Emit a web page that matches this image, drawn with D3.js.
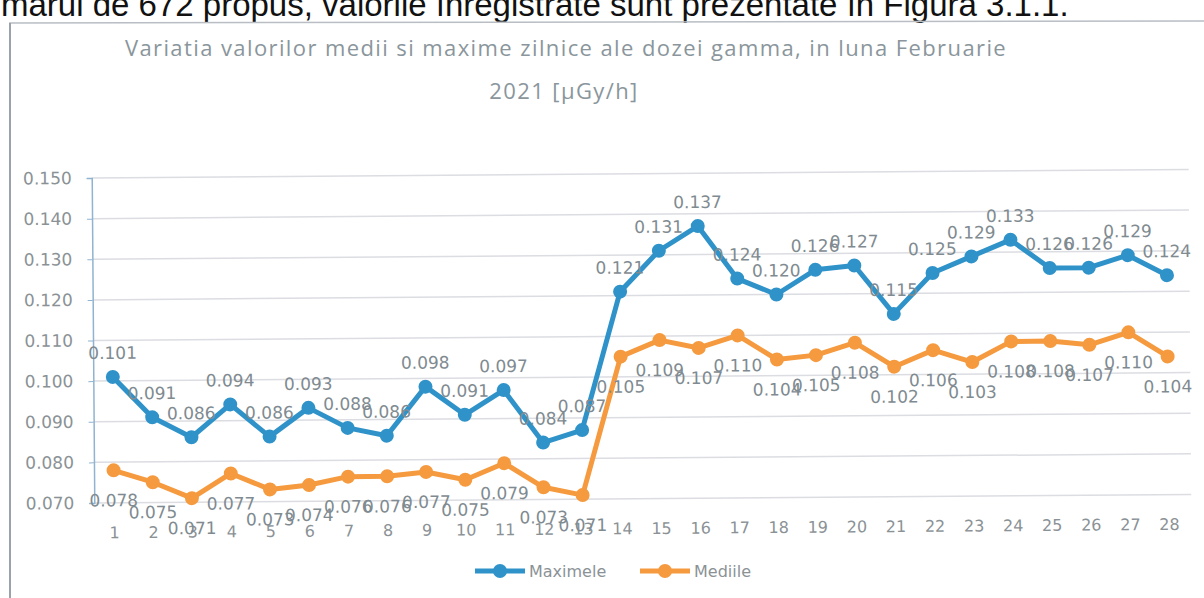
<!DOCTYPE html>
<html>
<head>
<meta charset="utf-8">
<script src="https://cdn.jsdelivr.net/npm/d3@7"></script>
<style>
  body { margin: 0; background: #fff; }
  svg { display: block; }
</style>
</head>
<body>
<svg id="vis" width="1204" height="598"></svg>
<script>
const days = d3.range(1, 29).map(String);
const maxime = [0.101, 0.091, 0.086, 0.094, 0.086, 0.093, 0.088, 0.086, 0.098, 0.091, 0.097, 0.084, 0.087, 0.121,
  0.131, 0.137, 0.124, 0.120, 0.126, 0.127, 0.115, 0.125, 0.129, 0.133, 0.126, 0.126, 0.129, 0.124];
const medii = [0.078, 0.075, 0.071, 0.077, 0.073, 0.074, 0.076, 0.076, 0.077, 0.075, 0.079, 0.073, 0.071, 0.105,
  0.109, 0.107, 0.110, 0.104, 0.105, 0.108, 0.102, 0.106, 0.103, 0.108, 0.108, 0.107, 0.110, 0.104];
const yTicks = [0.07, 0.08, 0.09, 0.10, 0.11, 0.12, 0.13, 0.14, 0.15];

const series = [
  { name: "Maximele", values: maxime, color: "#2f93c9", labelDy: -18 },
  { name: "Mediile", values: medii, color: "#f59a3e", labelDy: 36 }
];

const svg = d3.select("#vis");

// page text above the figure (cut off by the scan)
svg.append("text")
  .attr("x", 1).attr("y", 16)
  .style("font-family", "'Liberation Sans', Arial, sans-serif")
  .style("font-size", "33px")
  .attr("fill", "#111")
  .text("marul de 672 propus, valorile înregistrate sunt prezentate în Figura 3.1.1.");

// chart box
svg.append("line").attr("x1", 9).attr("x2", 1204).attr("y1", 23).attr("y2", 21)
  .attr("stroke", "#b8bec4").attr("stroke-width", 1.5);
svg.append("line").attr("x1", 10).attr("x2", 10).attr("y1", 23).attr("y2", 598)
  .attr("stroke", "#9aa3ab").attr("stroke-width", 2);

// title
const title = svg.append("text")
  .attr("text-anchor", "middle")
  .style("font-family", "'Open Sans', sans-serif")
  .style("font-size", "22px")
  .style("letter-spacing", "1.4px")
  .attr("fill", "#8a969c");
title.append("tspan").attr("x", 566).attr("y", 56)
  .text("Variatia valorilor medii si maxime zilnice ale dozei gamma, in luna Februarie");
title.append("tspan").attr("x", 564).attr("y", 99).text("2021 [µGy/h]");

// the scanned figure is slightly tilted
const chart = svg.append("g").attr("transform", "rotate(-0.45, 93, 340)");

const x = d3.scalePoint().domain(days).range([93, 1187]).padding(0.5);
const y = d3.scaleLinear().domain([0.07, 0.15]).range([503, 178]);

// gridlines
chart.append("g")
  .selectAll("line")
  .data(yTicks)
  .join("line")
  .attr("x1", 93).attr("x2", 1190)
  .attr("y1", d => y(d)).attr("y2", d => y(d))
  .attr("stroke", "#dcdde2").attr("stroke-width", 1.5);

// y axis
const yAxis = chart.append("g")
  .attr("transform", "translate(93,0)")
  .call(d3.axisLeft(y).tickValues(yTicks).tickFormat(d3.format(".3f")).tickSize(5).tickPadding(15));
yAxis.select(".domain").attr("stroke", "#8fb3d0").attr("stroke-width", 1.5);
yAxis.selectAll(".tick line").attr("stroke", "#8fb3d0");
yAxis.selectAll(".tick text")
  .attr("fill", "#8b9296")
  .style("font-family", "'DejaVu Sans', sans-serif")
  .style("font-size", "17px");

// x axis labels
const xAxis = chart.append("g")
  .attr("transform", "translate(0,503)")
  .call(d3.axisBottom(x).tickSize(0).tickPadding(24));
xAxis.select(".domain").remove();
xAxis.selectAll(".tick text")
  .attr("fill", "#8b9296")
  .style("font-family", "'DejaVu Sans', sans-serif")
  .style("font-size", "16px");

// series
const line = d3.line().x((d, i) => x(days[i])).y(d => y(d));

series.forEach(s => {
  const g = chart.append("g");
  g.append("path")
    .datum(s.values)
    .attr("d", line)
    .attr("fill", "none")
    .attr("stroke", s.color)
    .attr("stroke-width", 5)
    .attr("stroke-linejoin", "round");
  g.selectAll("circle")
    .data(s.values)
    .join("circle")
    .attr("cx", (d, i) => x(days[i]))
    .attr("cy", d => y(d))
    .attr("r", 7)
    .attr("fill", s.color);
  g.selectAll("text")
    .data(s.values)
    .join("text")
    .attr("x", (d, i) => x(days[i]))
    .attr("y", d => y(d) + s.labelDy)
    .attr("text-anchor", "middle")
    .attr("fill", "#7f8b91")
    .style("font-family", "'DejaVu Sans', sans-serif")
    .style("font-size", "17px")
    .text(d => d3.format(".3f")(d));
});

// legend
const legend = svg.append("g")
  .selectAll("g")
  .data(series)
  .join("g")
  .attr("transform", (d, i) => `translate(${475 + i * 165},571)`);
legend.append("line")
  .attr("x1", 0).attr("x2", 50)
  .attr("stroke", d => d.color).attr("stroke-width", 5);
legend.append("circle")
  .attr("cx", 25).attr("r", 7)
  .attr("fill", d => d.color);
legend.append("text")
  .attr("x", 54).attr("y", 6)
  .attr("fill", "#8b9296")
  .style("font-family", "'DejaVu Sans', sans-serif")
  .style("font-size", "16px")
  .text(d => d.name);
</script>
</body>
</html>
